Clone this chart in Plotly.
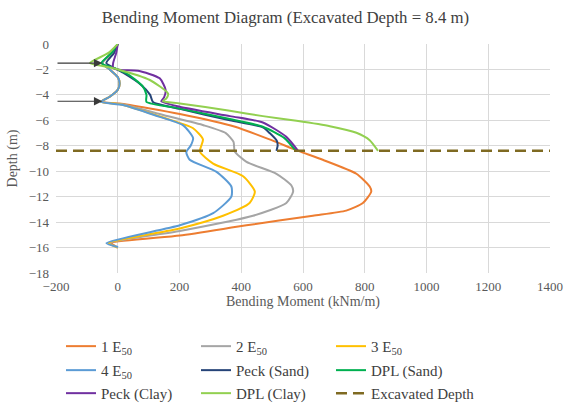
import plotly.graph_objects as go

# Bending moment (kNm/m) against depth (m) for each analysis case
m_1e50 = [0, -20, -50, -26, 0, 6, 0, -26, -55, 6, 201, 380, 502, 585, 664, 773, 816, 821, 794, 740, 632, 417, 201, -20, 0]
d_1e50 = [0, -0.7, -1.5, -2.0, -2.6, -3.1, -3.6, -4.15, -4.55, -4.67, -5.5, -6.5, -7.6, -8.4, -9.1, -10.2, -11.2, -11.6, -12.5, -13.1, -13.5, -14.25, -15.05, -15.65, -16.0]

m_2e50 = [0, -20, -50, -26, 0, 6, 0, -26, -55, 10, 150, 280, 350, 375, 379, 417, 514, 562, 568, 546, 438, 201, -25, 0]
d_2e50 = [0, -0.7, -1.5, -2.0, -2.6, -3.1, -3.6, -4.15, -4.55, -4.72, -5.6, -6.4, -7.0, -7.7, -8.45, -9.27, -10.2, -11.1, -11.6, -12.5, -13.5, -14.7, -15.65, -16.0]

m_3e50 = [0, -20, -50, -26, 0, 6, 0, -26, -55, 10, 150, 243, 276, 266, 309, 406, 444, 427, 341, 201, -30, 0]
d_3e50 = [0, -0.7, -1.5, -2.0, -2.6, -3.1, -3.6, -4.15, -4.55, -4.75, -5.8, -6.6, -7.5, -8.45, -9.4, -10.4, -11.6, -12.5, -13.5, -14.5, -15.65, -16.0]

m_4e50 = [0, -20, -50, -26, 0, 6, 0, -26, -55, 17, 120, 212, 244, 236, 222, 233, 320, 368, 368, 309, 201, -37, 1]
d_4e50 = [0, -0.7, -1.5, -2.0, -2.6, -3.1, -3.6, -4.15, -4.55, -4.8, -5.6, -6.4, -7.4, -8.0, -8.5, -9.1, -10.05, -11.2, -12.0, -13.3, -14.25, -15.65, -15.96]

m_peck_sand = [0, -12, -37, -10, 20, 75, 105, 114, 201, 363, 470, 492, 515, 518, 514]
d_peck_sand = [0, -0.7, -1.5, -1.9, -2.3, -3.2, -4.0, -4.55, -5.1, -6.0, -6.55, -7.0, -7.6, -7.95, -8.4]

m_dpl_sand = [0, -20, -53, -10, 28, 80, 93, 93, 201, 363, 470, 540, 575]
d_dpl_sand = [0, -0.7, -1.5, -1.9, -2.3, -3.3, -4.0, -4.55, -5.07, -5.9, -6.5, -7.4, -8.35]

m_peck_clay = [0, -5, -15, -15, 10, 66, 136, 155, 150, 141, 201, 363, 470, 546, 584]
d_peck_clay = [0, -0.7, -1.5, -1.9, -2.05, -2.1, -2.7, -3.6, -4.2, -4.5, -4.93, -5.67, -6.17, -7.3, -8.4]

m_dpl_clay = [0, -30, -90, -45, 1, 104, 163, 157, 146, 201, 363, 470, 579, 687, 773, 816, 843]
d_dpl_clay = [0, -0.7, -1.5, -1.75, -2.0, -2.83, -3.9, -4.3, -4.5, -4.67, -5.25, -5.67, -6.04, -6.46, -6.98, -7.56, -8.4]

excavated_depth = -8.4
strut_levels = [-1.5, -4.5]
strut_tip = -50

x_range = [-200, 1400]
y_range = [-18, 0]

series = [
    ("1 E<sub>50</sub>", m_1e50, d_1e50, "#ED7D31", "legend"),
    ("2 E<sub>50</sub>", m_2e50, d_2e50, "#A5A5A5", "legend"),
    ("3 E<sub>50</sub>", m_3e50, d_3e50, "#FFC000", "legend"),
    ("4 E<sub>50</sub>", m_4e50, d_4e50, "#5B9BD5", "legend2"),
    ("Peck (Sand)", m_peck_sand, d_peck_sand, "#264478", "legend2"),
    ("DPL (Sand)", m_dpl_sand, d_dpl_sand, "#00B050", "legend2"),
    ("Peck (Clay)", m_peck_clay, d_peck_clay, "#7030A0", "legend3"),
    ("DPL (Clay)", m_dpl_clay, d_dpl_clay, "#92D050", "legend3"),
]

fig = go.Figure()
for name, m, d, color, lg in series:
    fig.add_trace(go.Scatter(
        x=m, y=d, name=name, mode="lines", legend=lg,
        line=dict(color=color, width=2, shape="spline", smoothing=0.6),
    ))

fig.add_trace(go.Scatter(
    x=x_range, y=[excavated_depth, excavated_depth], name="Excavated Depth",
    mode="lines", legend="legend3", legendwidth=140,
    line=dict(color="#7F6A22", width=2.5, dash="11px,6px"),
))

# strut arrows
for lvl in strut_levels:
    fig.add_annotation(
        x=strut_tip, y=lvl, ax=x_range[0], ay=lvl,
        xref="x", yref="y", axref="x", ayref="y",
        text="", showarrow=True, arrowhead=2, arrowsize=1.4,
        arrowwidth=1.2, arrowcolor="#3A3A3A",
    )

serif = "Liberation Serif"
legend_common = dict(
    orientation="h", x=0.0101, xanchor="left", yanchor="middle",
    entrywidth=90, bgcolor="rgba(0,0,0,0)",
    font=dict(family=serif, size=15, color="#404040"),
)

fig.update_layout(
    width=571, height=403,
    margin=dict(l=56, r=21, t=44, b=130, autoexpand=False),
    paper_bgcolor="white", plot_bgcolor="white",
    font=dict(family=serif, color="#595959"),
    title=dict(
        text="Bending Moment Diagram (Excavated Depth = 8.4 m)",
        x=0.5, xref="container", y=1 - 17 / 403, yref="container",
        xanchor="center", yanchor="middle",
        font=dict(family=serif, size=16.8, color="#404040"),
    ),
    legend=dict(legend_common, y=-0.3205),
    legend2=dict(legend_common, y=-0.4253),
    legend3=dict(legend_common, y=-0.5258),
    xaxis=dict(
        range=x_range, dtick=200, tick0=0, showgrid=True, gridcolor="#D9D9D9",
        gridwidth=1, zeroline=False, showline=False, ticks="",
        ticklabelstandoff=4,
        tickfont=dict(family=serif, size=13, color="#595959"),
        title=dict(text="Bending Moment (kNm/m)", standoff=2,
                   font=dict(family=serif, size=14, color="#595959")),
    ),
    yaxis=dict(
        range=y_range, dtick=2, tick0=0, showgrid=True, gridcolor="#D9D9D9",
        gridwidth=1, zeroline=False, showline=False, ticks="",
        ticklabelstandoff=6,
        tickfont=dict(family=serif, size=13, color="#595959"),
        title=dict(text="Depth (m)", standoff=7,
                   font=dict(family=serif, size=14, color="#595959")),
    ),
)

fig.write_html("out.html")
